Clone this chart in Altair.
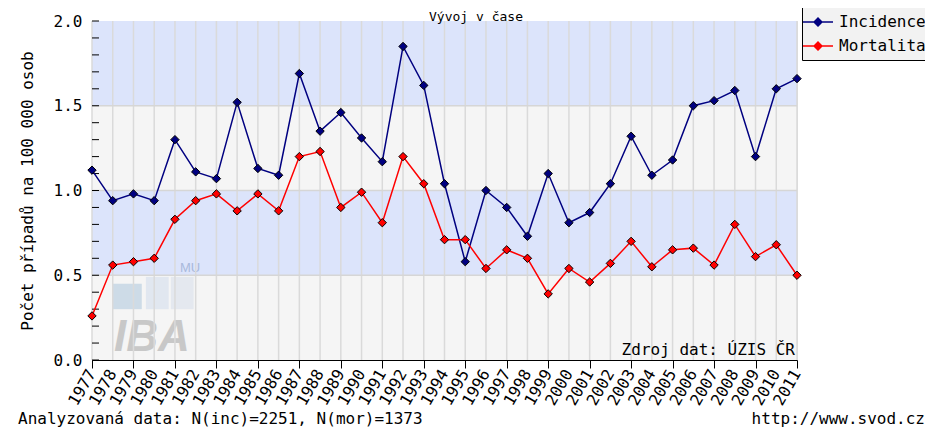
import altair as alt
import pandas as pd

years = list(range(1977, 2012))
incidence = [1.12, 0.94, 0.98, 0.94, 1.30, 1.11, 1.07, 1.52, 1.13, 1.09,
             1.69, 1.35, 1.46, 1.31, 1.17, 1.85, 1.62, 1.04, 0.58, 1.00,
             0.90, 0.73, 1.10, 0.81, 0.87, 1.04, 1.32, 1.09, 1.18, 1.50,
             1.53, 1.59, 1.20, 1.60, 1.66]
mortalita = [0.26, 0.56, 0.58, 0.60, 0.83, 0.94, 0.98, 0.88, 0.98, 0.88,
             1.20, 1.23, 0.90, 0.99, 0.81, 1.20, 1.04, 0.71, 0.71, 0.54,
             0.65, 0.60, 0.39, 0.54, 0.46, 0.57, 0.70, 0.55, 0.65, 0.66,
             0.56, 0.80, 0.61, 0.68, 0.50]
series_names = ["Incidence", "Mortalita"]
series_colors = ["#000080", "#ff0000"]

band_lo = [0.0, 0.5, 1.0, 1.5]
band_hi = [0.5, 1.0, 1.5, 2.0]
band_colors = ["#f5f5f5", "#dce4fb", "#f5f5f5", "#dce4fb"]
hgrid = [0.5, 1.0, 1.5]
minor_ticks = [round(i * 0.1, 1) for i in range(21)]
y_labels = [0.0, 0.5, 1.0, 1.5, 2.0]

title_text = "Vývoj v čase"
y_title = "Počet případů na 100 000 osob"
note_left = "Analyzovaná data: N(inc)=2251, N(mor)=1373"
note_right = "http://www.svod.cz"
source_text = "Zdroj dat: ÚZIS ČR"

MONO = "DejaVu Sans Mono"
W, H = 705, 339

data = pd.DataFrame({
    "year": years * 2,
    "value": incidence + mortalita,
    "series": [series_names[0]] * len(years) + [series_names[1]] * len(years),
})
bands = pd.DataFrame({"lo": band_lo, "hi": band_hi, "col": band_colors,
                      "x1": [years[0]] * 4, "x2": [years[-1]] * 4})
years_df = pd.DataFrame({"year": years, "label": [str(y) for y in years]})
hgrid_df = pd.DataFrame({"v": hgrid})
minor_df = pd.DataFrame({"v": minor_ticks})

xscale = alt.Scale(domain=[1977, 2011], nice=False, zero=False)
yscale = alt.Scale(domain=[0, 2], nice=False)

x_axis = alt.Axis(values=years, labels=False, tickSize=8, grid=False, title=None,
                  domainColor="#000000", tickColor="#000000")
y_axis = alt.Axis(orient="left", values=y_labels, format=".1f",
                  tickSize=0, labelPadding=10, grid=False, title=y_title,
                  titlePadding=18, titleFont=MONO, titleFontSize=16,
                  titleFontWeight="normal", titleColor="#000000",
                  labelFont=MONO, labelFontSize=16, labelColor="#000000",
                  domainColor="#000000")

band_layer = alt.Chart(bands).mark_rect().encode(
    x=alt.X("x1:Q", scale=xscale, axis=x_axis),
    x2="x2:Q",
    y=alt.Y("lo:Q", scale=yscale, axis=y_axis),
    y2="hi:Q",
    color=alt.Color("col:N", scale=None),
)

# IBA watermark (decorative)
wm_rects = pd.DataFrame({
    "x1": [1978.0, 1979.6, 1980.8], "x2": [1979.4, 1980.7, 1981.9],
    "y1": [0.30, 0.30, 0.30], "y2": [0.45, 0.49, 0.49],
    "c": ["#c9d8e6", "#dfe6ef", "#e2e7ee"],
})
wm_layer = alt.Chart(wm_rects).mark_rect(opacity=0.9).encode(
    x=alt.X("x1:Q", scale=xscale), x2="x2:Q",
    y=alt.Y("y1:Q", scale=yscale), y2="y2:Q",
    color=alt.Color("c:N", scale=None),
)
wm_text = alt.Chart(pd.DataFrame({"t": ["IBA"]})).mark_text(
    font="Liberation Sans", fontSize=44, fontWeight="bold", fontStyle="italic",
    color="#c4c4c4", align="left", baseline="alphabetic", opacity=0.9,
).encode(text="t:N", x=alt.value(22), y=alt.value(330))
wm_mu = alt.Chart(pd.DataFrame({"t": ["MU"]})).mark_text(
    font="Liberation Sans", fontSize=13, color="#a9b9dc", align="left",
    baseline="alphabetic",
).encode(text="t:N", x=alt.value(88), y=alt.value(251))

vgrid = alt.Chart(years_df).mark_rule(color="#dadada", strokeWidth=1.5).encode(
    x=alt.X("year:Q", scale=xscale)
)
hgrid_layer = alt.Chart(hgrid_df).mark_rule(color="#d6d6d6", strokeWidth=1.5).encode(
    y=alt.Y("v:Q", scale=yscale)
)
inner_ticks = alt.Chart(minor_df).mark_rule(color="#000000", strokeWidth=1).encode(
    y=alt.Y("v:Q", scale=yscale),
    x=alt.value(0), x2=alt.value(7),
)

# rotated year labels under the x axis
year_labels = alt.Chart(years_df).mark_text(
    font=MONO, fontSize=16, color="#000000", angle=300, align="right",
    baseline="middle",
).encode(x=alt.X("year:Q", scale=xscale), y=alt.value(H + 11), text="label:N")

lines = alt.Chart(data).mark_line(strokeWidth=1.5).encode(
    x=alt.X("year:Q", scale=xscale),
    y=alt.Y("value:Q", scale=yscale),
    color=alt.Color("series:N", scale=alt.Scale(domain=series_names, range=series_colors),
                    legend=None),
    detail="series:N",
)

legend_symbol = "M-1.5,-0.08H1.5V0.08H-1.5Z M0,-0.5L0.5,0L0,0.5L-0.5,0Z"
points = alt.Chart(data).mark_point(shape="diamond", filled=True, size=70,
                                    stroke="#000000", strokeWidth=1, opacity=1).encode(
    x=alt.X("year:Q", scale=xscale),
    y=alt.Y("value:Q", scale=yscale),
    fill=alt.Fill("series:N", scale=alt.Scale(domain=series_names, range=series_colors),
                  legend=alt.Legend(title=None, orient="none", legendX=710, legendY=-15,
                                    direction="vertical", symbolType=legend_symbol,
                                    symbolSize=400, symbolStrokeWidth=0,
                                    labelFont=MONO, labelFontSize=16, labelColor="#000000",
                                    labelOffset=11, padding=6, rowPadding=6,
                                    fillColor="#f2f2f2", strokeColor="#000000")),
)

def label(text, x, y, align, baseline="middle", size=16):
    return alt.Chart(pd.DataFrame({"t": [text]})).mark_text(
        font=MONO, fontSize=size, color="#000000", align=align, baseline=baseline
    ).encode(text="t:N", x=alt.value(x), y=alt.value(y))

texts = [
    label(title_text, 384, 0, "center", "alphabetic", 13),
    label(source_text, 703, 329, "right"),
    label(note_left, -74, 398, "left"),
    label(note_right, 833, 398, "right"),
]

chart = alt.layer(
    band_layer, wm_layer, wm_text, wm_mu, vgrid, hgrid_layer, inner_ticks,
    lines, points, year_labels, *texts
).resolve_scale(color="independent", fill="independent").properties(
    width=W, height=H,
    autosize=alt.AutoSizeParams(type="none"),
    padding={"left": 84, "top": 13, "right": 128, "bottom": 69},
).configure_view(strokeWidth=0).configure(background="#ffffff")

chart.save("out.html", embed_options={"renderer": "svg", "actions": False})
